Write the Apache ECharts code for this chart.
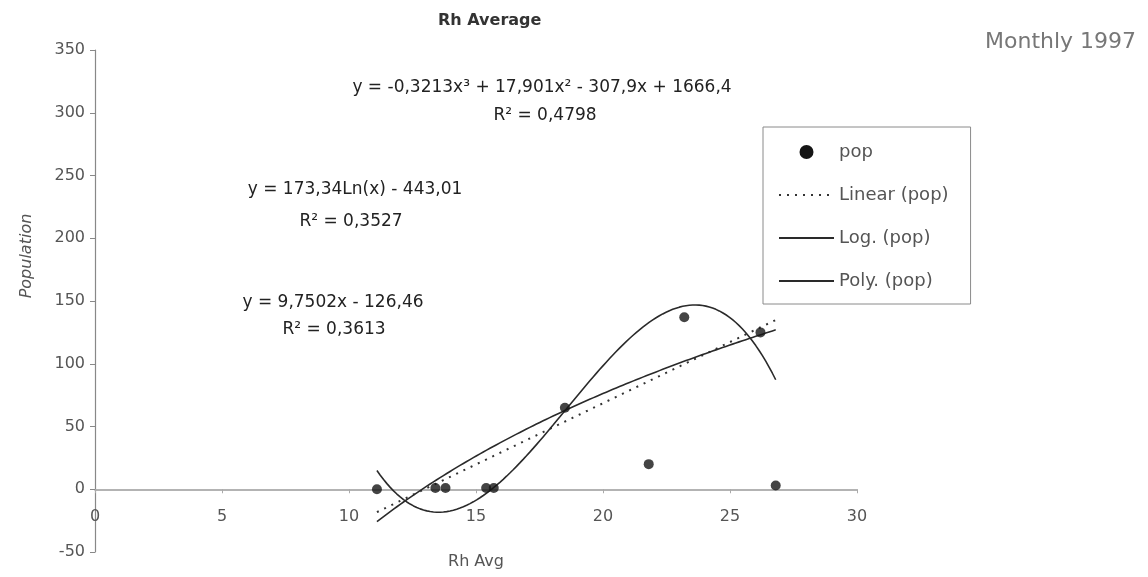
<!DOCTYPE html>
<html>
<head>
<meta charset="utf-8">
<title>Rh Average</title>
<script src="https://cdn.jsdelivr.net/npm/echarts@6/dist/echarts.min.js"></script>
<style>
  html, body { margin: 0; padding: 0; background: #ffffff; }
  #chart { width: 1148px; height: 577px; }
</style>
</head>
<body>
<div id="chart"></div>
<script>
// Monthly 1997 observations: relative humidity average vs population
const popX = [11.1, 13.4, 13.8, 15.4, 15.7, 18.5, 21.8, 23.2, 26.2, 26.8];
const popY = [0, 1, 1, 1, 1, 65, 20, 137, 125, 3];

// Trendline coefficients as printed on the chart
const linearCoef = [9.7502, -126.46];               // y = a*x + b
const logCoef = [173.34, -443.01];                  // y = a*ln(x) + b
const polyCoef = [-0.3213, 17.901, -307.9, 1666.4]; // y = a*x^3 + b*x^2 + c*x + d

const xTicks = [0, 5, 10, 15, 20, 25, 30];
const yTicks = [-50, 0, 50, 100, 150, 200, 250, 300, 350];

const eqPoly = 'y = -0,3213x³ + 17,901x² - 307,9x + 1666,4';
const r2Poly = 'R² = 0,4798';
const eqLog = 'y = 173,34Ln(x) - 443,01';
const r2Log = 'R² = 0,3527';
const eqLin = 'y = 9,7502x - 126,46';
const r2Lin = 'R² = 0,3613';

// Trendlines span the observed x range
const xMin = Math.min.apply(null, popX);
const xMax = Math.max.apply(null, popX);
function curve(fn) {
  const pts = [];
  const n = 120;
  for (let i = 0; i <= n; i++) {
    const x = xMin + (xMax - xMin) * i / n;
    pts.push([x, fn(x)]);
  }
  return pts;
}
const linearPts = curve(x => linearCoef[0] * x + linearCoef[1]);
const logPts = curve(x => logCoef[0] * Math.log(x) + logCoef[1]);
const polyPts = curve(x => ((polyCoef[0] * x + polyCoef[1]) * x + polyCoef[2]) * x + polyCoef[3]);

const FONT = 'DejaVu Sans';
const GRID = { left: 95, top: 50, width: 762, height: 502 };
const yLo = yTicks[0], yHi = yTicks[yTicks.length - 1];
// the horizontal axis crosses the vertical one at y = 0
const xAxisOffset = -GRID.height * (0 - yLo) / (yHi - yLo);

const eqFont = '17px "DejaVu Sans"';
function eqText(x, y, text) {
  return { type: 'text', x: x, y: y, style: { text: text, fill: '#222222', font: eqFont, align: 'center', verticalAlign: 'middle' } };
}

const chart = echarts.init(document.getElementById('chart'), null, { renderer: 'canvas' });

chart.setOption({
  animation: false,
  backgroundColor: '#ffffff',
  grid: Object.assign({ containLabel: false }, GRID),
  xAxis: {
    type: 'value',
    min: xTicks[0],
    max: xTicks[xTicks.length - 1],
    interval: 5,
    offset: xAxisOffset,
    axisLine: { onZero: false, lineStyle: { color: '#9a9a9a', width: 1.5 } },
    axisTick: { show: true, length: 4, lineStyle: { color: '#aaaaaa' } },
    axisLabel: { color: '#555555', fontFamily: FONT, fontSize: 16, margin: 20 },
    splitLine: { show: false }
  },
  yAxis: {
    type: 'value',
    min: yLo,
    max: yHi,
    interval: 50,
    axisLine: { show: true, onZero: false, lineStyle: { color: '#888888', width: 1.2 } },
    axisTick: { show: true, inside: false, length: 5, lineStyle: { color: '#888888' } },
    axisLabel: { color: '#555555', fontFamily: FONT, fontSize: 16, margin: 10 },
    splitLine: { show: false }
  },
  legend: {
    orient: 'vertical',
    left: 763,
    top: 127,
    padding: [15, 22, 13, 15],
    itemWidth: 55,
    itemHeight: 14,
    itemGap: 23,
    backgroundColor: '#ffffff',
    borderColor: '#8a8a8a',
    borderWidth: 1,
    textStyle: { color: '#555555', fontFamily: FONT, fontSize: 18, lineHeight: 20 },
    data: [
      { name: 'pop', icon: 'circle', itemStyle: { opacity: 1 } },
      { name: 'Linear (pop)', itemStyle: { opacity: 0 } },
      { name: 'Log. (pop)', itemStyle: { opacity: 0 } },
      { name: 'Poly. (pop)', itemStyle: { opacity: 0 } }
    ]
  },
  series: [
    {
      name: 'Linear (pop)',
      type: 'line',
      data: linearPts,
      showSymbol: false,
      symbol: 'none',
      lineStyle: { color: '#333333', width: 2, type: [2, 6] },
      itemStyle: { color: '#333333' },
      z: 2
    },
    {
      name: 'Log. (pop)',
      type: 'line',
      data: logPts,
      showSymbol: false,
      symbol: 'none',
      lineStyle: { color: '#2a2a2a', width: 1.6 },
      itemStyle: { color: '#2a2a2a' },
      z: 3
    },
    {
      name: 'Poly. (pop)',
      type: 'line',
      data: polyPts,
      showSymbol: false,
      symbol: 'none',
      lineStyle: { color: '#2a2a2a', width: 1.6 },
      itemStyle: { color: '#2a2a2a' },
      z: 3
    },
    {
      name: 'pop',
      type: 'scatter',
      data: popX.map((x, i) => [x, popY[i]]),
      symbol: 'circle',
      symbolSize: 10,
      itemStyle: { color: '#151515' },
      z: 5
    }
  ],
  graphic: [
    { type: 'text', left: 438, top: 13, style: { text: 'Rh Average', fill: '#333333', font: 'bold 16px "DejaVu Sans"' } },
    { type: 'text', left: 985, top: 31, style: { text: 'Monthly 1997', fill: '#777777', font: '22px "DejaVu Sans"' } },
    eqText(542, 88, eqPoly),
    eqText(545, 116, r2Poly),
    eqText(355, 190, eqLog),
    eqText(351, 222, r2Log),
    eqText(333, 303, eqLin),
    eqText(334, 330, r2Lin),
    { type: 'text', x: 476, y: 562, style: { text: 'Rh Avg', fill: '#555555', font: '16px "DejaVu Sans"', align: 'center', verticalAlign: 'middle' } },
    { type: 'text', x: 27, y: 256, rotation: Math.PI / 2, style: { text: 'Population', fill: '#555555', font: 'italic 16px "DejaVu Sans"', align: 'center', verticalAlign: 'middle' } }
  ]
});
</script>
</body>
</html>
